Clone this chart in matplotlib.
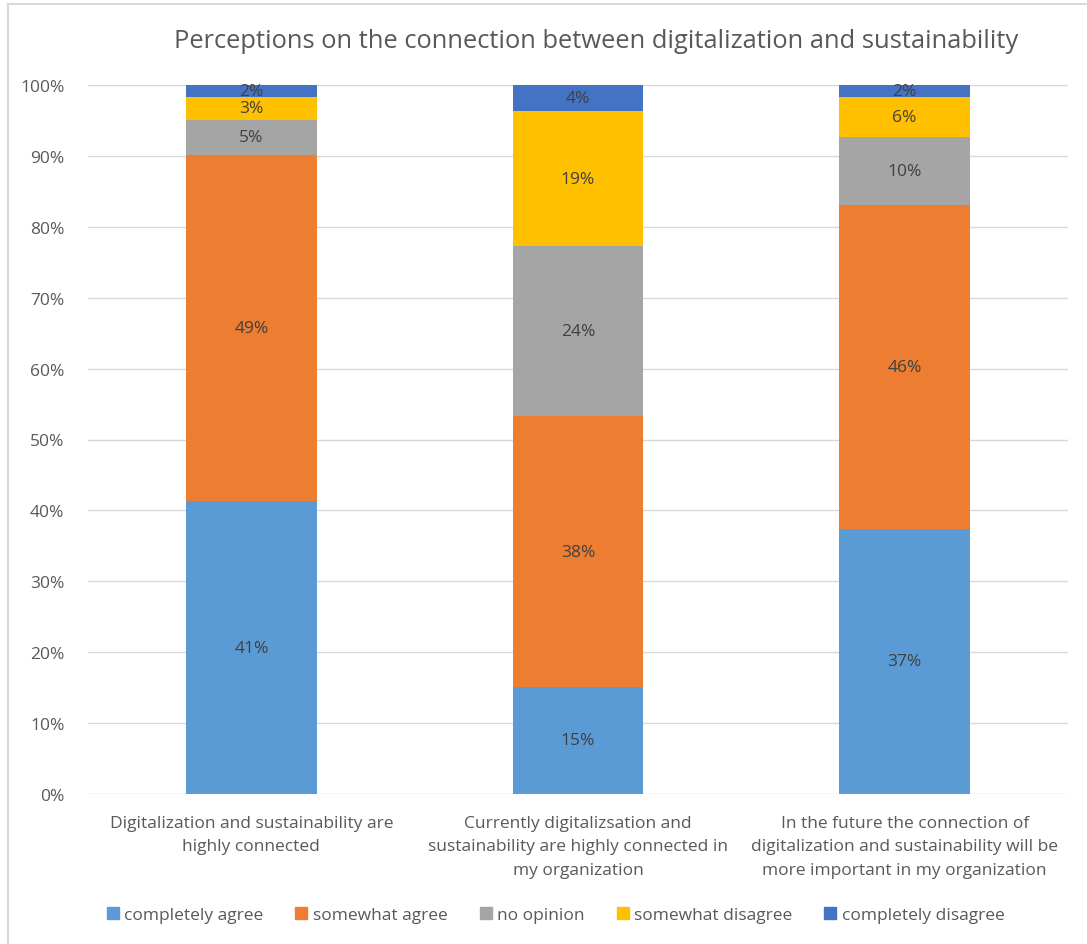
import numpy as np
import matplotlib.pyplot as plt
from matplotlib.lines import Line2D

plt.rcParams['font.family'] = ['Open Sans', 'DejaVu Sans']

categories = [
    'Digitalization and sustainability are\nhighly connected',
    'Currently digitalizsation and\nsustainability are highly connected in\nmy organization',
    'In the future the connection of\ndigitalization and sustainability will be\nmore important in my organization',
]
series = ['completely agree', 'somewhat agree', 'no opinion',
          'somewhat disagree', 'completely disagree']
completely_agree = [41.3, 15.1, 37.4]
somewhat_agree = [48.8, 38.2, 45.7]
no_opinion = [5.0, 24.0, 9.6]
somewhat_disagree = [3.2, 19.0, 5.6]
completely_disagree = [1.7, 3.7, 1.7]
colors = ['#5B9BD5', '#ED7D31', '#A5A5A5', '#FFC000', '#4472C4']

values = [completely_agree, somewhat_agree, no_opinion,
          somewhat_disagree, completely_disagree]

fig = plt.figure(figsize=(10.87, 9.45), dpi=100)
ax = fig.add_axes([88 / 1087, 1 - 795 / 945, (1068 - 88) / 1087, (795 - 86) / 945])

x = np.arange(len(categories))
bottom = np.zeros(len(categories))
for name, vals, col in zip(series, values, colors):
    vals = np.array(vals)
    ax.bar(x, vals, 0.4, bottom=bottom, color=col, label=name, zorder=2)
    for xi, b, v in zip(x, bottom, vals):
        ax.text(xi, b + v / 2, f'{v:.0f}%', ha='center', va='center',
                fontsize=12.5, color='#404040', zorder=3)
    bottom += vals

ax.set_xlim(-0.5, 2.5)
ax.set_ylim(0, 100)
ax.set_yticks(np.arange(0, 101, 10))
ax.set_yticklabels([f'{t}%' for t in range(0, 101, 10)])
ax.yaxis.grid(True, color='#D9D9D9', linewidth=1, zorder=0)
ax.set_xticks(x)
ax.set_xticklabels(categories, linespacing=1.62)
ax.tick_params(axis='both', length=0, labelcolor='#595959', labelsize=12.5)
ax.tick_params(axis='y', pad=17)
ax.tick_params(axis='x', pad=15)
for s in ax.spines.values():
    s.set_visible(False)

fig.text(0.548, 1 - 42 / 945, 'Perceptions on the connection between digitalization and sustainability',
         ha='center', va='center', fontsize=18.4, color='#595959')

handles = [plt.Rectangle((0, 0), 1, 1, color=c) for c in colors]
fig.legend(handles, series, loc='center', bbox_to_anchor=(0.511, 1 - 916 / 945),
           ncol=5, frameon=False, fontsize=12.5, labelcolor='#595959',
           handlelength=0.7, handleheight=0.7, handletextpad=0.3, columnspacing=1.85)

# chart frame
fig.add_artist(Line2D([8 / 1087, 8 / 1087], [0, 1 - 5 / 945], transform=fig.transFigure,
                      color='#D9D9D9', linewidth=1.5))
fig.add_artist(Line2D([8 / 1087, 1], [1 - 5 / 945, 1 - 5 / 945], transform=fig.transFigure,
                      color='#D9D9D9', linewidth=1.5))

fig.savefig('out.png', dpi=100)
plt.close(fig)
